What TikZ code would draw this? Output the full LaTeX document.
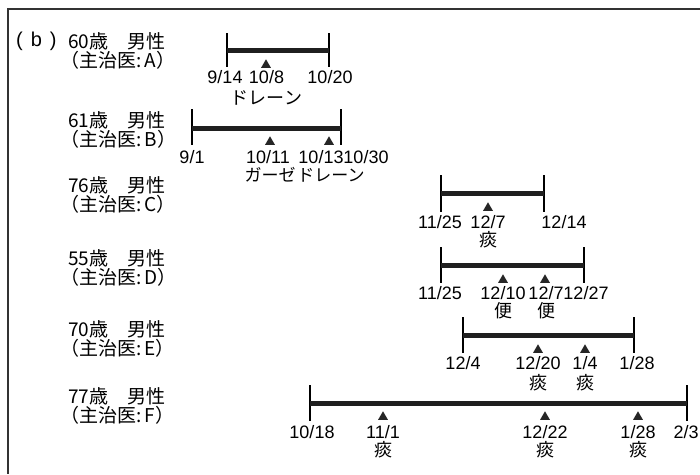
\documentclass[tikz,border=0pt]{standalone}
\usepackage{fontspec}
\setmainfont{Liberation Sans}
\newfontfamily\jpfont{Noto Sans CJK JP}
\usetikzlibrary{shapes.geometric}
\begin{document}
\begin{tikzpicture}[x=1pt,y=-1pt,
  frameline/.style={line width=1.6pt, black!80},
  barline/.style={line width=5pt, black!88},
  tickline/.style={line width=1.7pt, black},
  date/.style={inner sep=0pt, font=\fontsize{18}{18}\selectfont},
  jp/.style={inner sep=0pt, font=\jpfont\fontsize{17}{17}\selectfont},
  dj/.style={inner sep=0pt, align=center, anchor=north, font=\fontsize{18}{#1}\selectfont},
  who/.style={inner sep=0pt, align=left, anchor=north west, font=\jpfont\fontsize{19}{17.5}\selectfont},
  tri/.style={regular polygon, regular polygon sides=3, minimum size=11.5pt, inner sep=0pt, fill=black!85}]
\useasboundingbox (0,0) rectangle (700,474);
% frame
\coordinate (fTL) at (8,9);
\coordinate (fTR) at (700,9);
\coordinate (fBL) at (8,474);
\draw[frameline] (fTR) -- (fTL) -- (fBL);
% left labels
\node[inner sep=0pt, anchor=west, font=\fontsize{20}{22}\selectfont] (lbl) at (16,41) {(\hspace{8pt}b\hspace{8pt})};
\node[who] (wA) at (60,32) {\hspace*{8pt}60歳　男性\\（主治医:\,A）};
\node[who] (wB) at (60,111) {\hspace*{8pt}61歳　男性\\（主治医:\,B）};
\node[who] (wC) at (60,176) {\hspace*{8pt}76歳　男性\\（主治医:\,C）};
\node[who] (wD) at (60,249) {\hspace*{8pt}55歳　男性\\（主治医:\,D）};
\node[who] (wE) at (60,320) {\hspace*{8pt}70歳　男性\\（主治医:\,E）};
\node[who] (wF) at (60,387) {\hspace*{8pt}77歳　男性\\（主治医:\,F）};
% ---- A
\coordinate (a1t) at (227,33); \coordinate (a1m) at (227,50); \coordinate (a1b) at (227,67);
\coordinate (a2t) at (329,33); \coordinate (a2m) at (329,50); \coordinate (a2b) at (329,67);
\draw[tickline] (a1t) -- (a1b);
\draw[tickline] (a2t) -- (a2b);
\draw[barline] (a1m) -- (a2m);
\node[tri] (tA1) at (266,65) {};
\node[date] (dA1) at (225,77) {9/14};
\node[dj=21.4] (dA2) at (266.5,70.3) {10/8\\{\jpfont ドレーン}};
\node[date] (dA3) at (330,77) {10/20};
% ---- B
\coordinate (b1t) at (192,109); \coordinate (b1m) at (192,128); \coordinate (b1b) at (192,145);
\coordinate (b2t) at (341,109); \coordinate (b2m) at (341,128); \coordinate (b2b) at (341,145);
\draw[tickline] (b1t) -- (b1b);
\draw[tickline] (b2t) -- (b2b);
\draw[barline] (b1m) -- (b2m);
\node[tri] (tB1) at (270,142) {};
\node[tri] (tB2) at (329,142) {};
\node[date] (dB1) at (192,157) {9/1};
\node[date] (dB2) at (268,157) {10/11};
\node[date] (dB3) at (321,157) {10/13};
\node[date] (dB4) at (366,157) {10/30};
\node[jp] (jB1) at (270,175) {ガーゼ};
\node[jp] (jB2) at (331,175) {ドレーン};
% ---- C
\coordinate (c1t) at (441,175); \coordinate (c1m) at (441,193); \coordinate (c1b) at (441,212);
\coordinate (c2t) at (544,175); \coordinate (c2m) at (544,193); \coordinate (c2b) at (544,212);
\draw[tickline] (c1t) -- (c1b);
\draw[tickline] (c2t) -- (c2b);
\draw[barline] (c1m) -- (c2m);
\node[tri] (tC1) at (488,208) {};
\node[date] (dC1) at (440,222) {11/25};
\node[dj=18] (dC2) at (488,215.3) {12/7\\{\jpfont 痰}};
\node[date] (dC3) at (564,222) {12/14};
% ---- D
\coordinate (d1t) at (441,247); \coordinate (d1m) at (441,265); \coordinate (d1b) at (441,283);
\coordinate (d2t) at (584,247); \coordinate (d2m) at (584,265); \coordinate (d2b) at (584,283);
\draw[tickline] (d1t) -- (d1b);
\draw[tickline] (d2t) -- (d2b);
\draw[barline] (d1m) -- (d2m);
\node[tri] (tD1) at (503,280) {};
\node[tri] (tD2) at (545,280) {};
\node[date] (dD1) at (440,293) {11/25};
\node[dj=18] (dD2) at (503,286.3) {12/10\\{\jpfont 便}};
\node[dj=18] (dD3) at (546,286.3) {12/7\\{\jpfont 便}};
\node[date] (dD4) at (586,293) {12/27};
% ---- E
\coordinate (e1t) at (463,317); \coordinate (e1m) at (463,335); \coordinate (e1b) at (463,353);
\coordinate (e2t) at (634,317); \coordinate (e2m) at (634,335); \coordinate (e2b) at (634,353);
\draw[tickline] (e1t) -- (e1b);
\draw[tickline] (e2t) -- (e2b);
\draw[barline] (e1m) -- (e2m);
\node[tri] (tE1) at (538,350) {};
\node[tri] (tE2) at (585,350) {};
\node[date] (dE1) at (463,363) {12/4};
\node[dj=20] (dE2) at (538,356.3) {12/20\\{\jpfont 痰}};
\node[dj=20] (dE3) at (585,356.3) {1/4\\{\jpfont 痰}};
\node[date] (dE4) at (637,363) {1/28};
% ---- F
\coordinate (f1t) at (310,385); \coordinate (f1m) at (310,403); \coordinate (f1b) at (310,421);
\coordinate (f2t) at (687,385); \coordinate (f2m) at (687,403); \coordinate (f2b) at (687,421);
\draw[tickline] (f1t) -- (f1b);
\draw[tickline] (f2t) -- (f2b);
\draw[barline] (f1m) -- (f2m);
\node[tri] (tF1) at (383,417) {};
\node[tri] (tF2) at (545,417) {};
\node[tri] (tF3) at (638,417) {};
\node[date] (dF1) at (312,432) {10/18};
\node[dj=18] (dF2) at (383,425.3) {11/1\\{\jpfont 痰}};
\node[dj=18] (dF3) at (545,425.3) {12/22\\{\jpfont 痰}};
\node[dj=18] (dF4) at (638,425.3) {1/28\\{\jpfont 痰}};
\node[date] (dF5) at (686,432) {2/3};
\end{tikzpicture}
\end{document}
